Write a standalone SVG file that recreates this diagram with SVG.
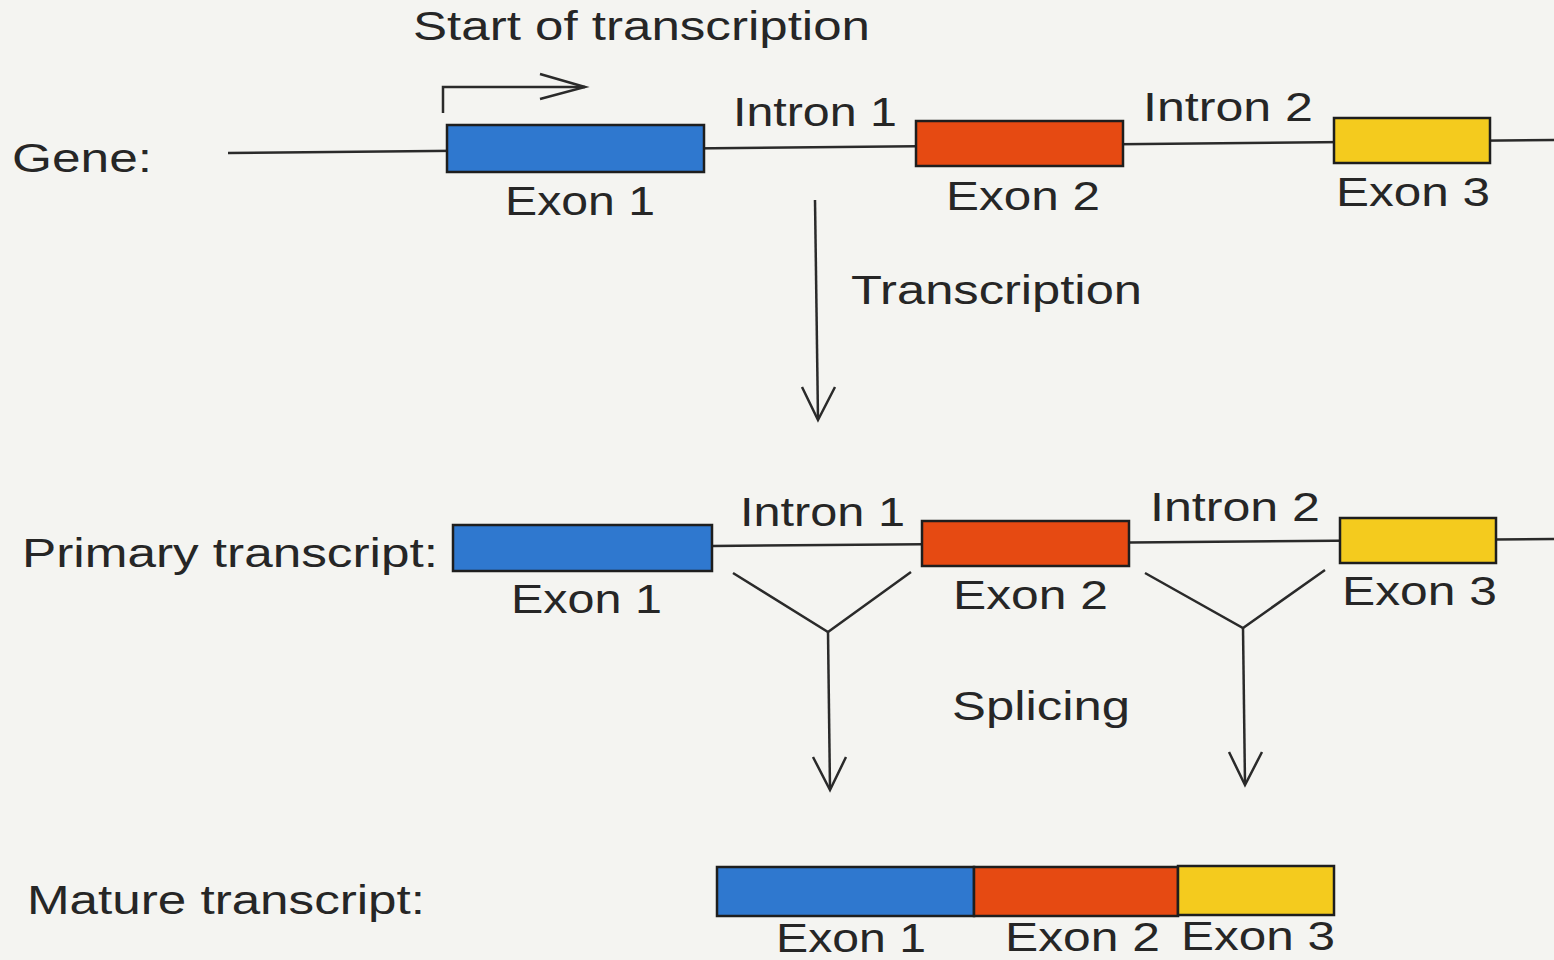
<svg xmlns="http://www.w3.org/2000/svg" width="1554" height="960" viewBox="0 0 1554 960">
<style>
.bg{fill:#f4f4f1}
.t{font-family:"Liberation Sans",Arial,sans-serif;font-size:41px;fill:#262626}
.ln{stroke:#2a2a2a;stroke-width:2.5;fill:none}
.ex{stroke:#1e1e1e;stroke-width:2.5}
.b{fill:#2f78cf}
.r{fill:#e64a12}
.y{fill:#f4cb1e}
</style>
<rect class="bg" x="0" y="0" width="1554" height="960"/>
<g id="connectors">
<line class="ln" x1="228" y1="153" x2="1554" y2="140"/>
<polyline class="ln" points="443,113 443,87 585,87"/>
<polyline class="ln" points="540,74 585,87 540,99"/>
<line class="ln" x1="815" y1="200" x2="818" y2="419"/>
<polyline class="ln" points="802,387 818,420 835,387"/>
<line class="ln" x1="712" y1="546" x2="1554" y2="539"/>
<polyline class="ln" points="733,573 828,632 911,572"/>
<line class="ln" x1="828" y1="632" x2="830" y2="789"/>
<polyline class="ln" points="813,757 830,790 846,757"/>
<polyline class="ln" points="1145,573 1243,628 1325,570"/>
<line class="ln" x1="1243" y1="628" x2="1245" y2="784"/>
<polyline class="ln" points="1229,752 1245,785 1262,752"/>
</g>
<g id="labels">
<text class="t" x="413" y="40" textLength="457" lengthAdjust="spacingAndGlyphs">Start of transcription</text>
<text class="t" x="12" y="172" textLength="140" lengthAdjust="spacingAndGlyphs">Gene:</text>
<text class="t" x="851" y="304" textLength="291" lengthAdjust="spacingAndGlyphs">Transcription</text>
<text class="t" x="22" y="567" textLength="416" lengthAdjust="spacingAndGlyphs">Primary transcript:</text>
<text class="t" x="952" y="720" textLength="178" lengthAdjust="spacingAndGlyphs">Splicing</text>
<text class="t" x="27" y="914" textLength="398" lengthAdjust="spacingAndGlyphs">Mature transcript:</text>
</g>
<g id="gene-exon1">
<rect class="ex b" x="447" y="125" width="257" height="47"/>
<text class="t" x="505" y="215" textLength="150" lengthAdjust="spacingAndGlyphs">Exon 1</text>
</g>
<g id="gene-intron1"><text class="t" x="733" y="126" textLength="164" lengthAdjust="spacingAndGlyphs">Intron 1</text></g>
<g id="gene-exon2">
<rect class="ex r" x="916" y="121" width="207" height="45"/>
<text class="t" x="946" y="210" textLength="154" lengthAdjust="spacingAndGlyphs">Exon 2</text>
</g>
<g id="gene-intron2"><text class="t" x="1143" y="121" textLength="170" lengthAdjust="spacingAndGlyphs">Intron 2</text></g>
<g id="gene-exon3">
<rect class="ex y" x="1334" y="118" width="156" height="45"/>
<text class="t" x="1336" y="206" textLength="154" lengthAdjust="spacingAndGlyphs">Exon 3</text>
</g>
<g id="primary-exon1">
<rect class="ex b" x="453" y="525" width="259" height="46"/>
<text class="t" x="511" y="613" textLength="151" lengthAdjust="spacingAndGlyphs">Exon 1</text>
</g>
<g id="primary-intron1"><text class="t" x="740" y="526" textLength="165" lengthAdjust="spacingAndGlyphs">Intron 1</text></g>
<g id="primary-exon2">
<rect class="ex r" x="922" y="521" width="207" height="45"/>
<text class="t" x="953" y="609" textLength="155" lengthAdjust="spacingAndGlyphs">Exon 2</text>
</g>
<g id="primary-intron2"><text class="t" x="1150" y="521" textLength="170" lengthAdjust="spacingAndGlyphs">Intron 2</text></g>
<g id="primary-exon3">
<rect class="ex y" x="1340" y="518" width="156" height="45"/>
<text class="t" x="1342" y="605" textLength="155" lengthAdjust="spacingAndGlyphs">Exon 3</text>
</g>
<g id="mature-exon1">
<rect class="ex b" x="717" y="867" width="257" height="49"/>
<text class="t" x="776" y="952" textLength="150" lengthAdjust="spacingAndGlyphs">Exon 1</text>
</g>
<g id="mature-exon2">
<rect class="ex r" x="974" y="867" width="204" height="49"/>
<text class="t" x="1005" y="951" textLength="155" lengthAdjust="spacingAndGlyphs">Exon 2</text>
</g>
<g id="mature-exon3">
<rect class="ex y" x="1178" y="866" width="156" height="49"/>
<text class="t" x="1181" y="950" textLength="154" lengthAdjust="spacingAndGlyphs">Exon 3</text>
</g>
</svg>
